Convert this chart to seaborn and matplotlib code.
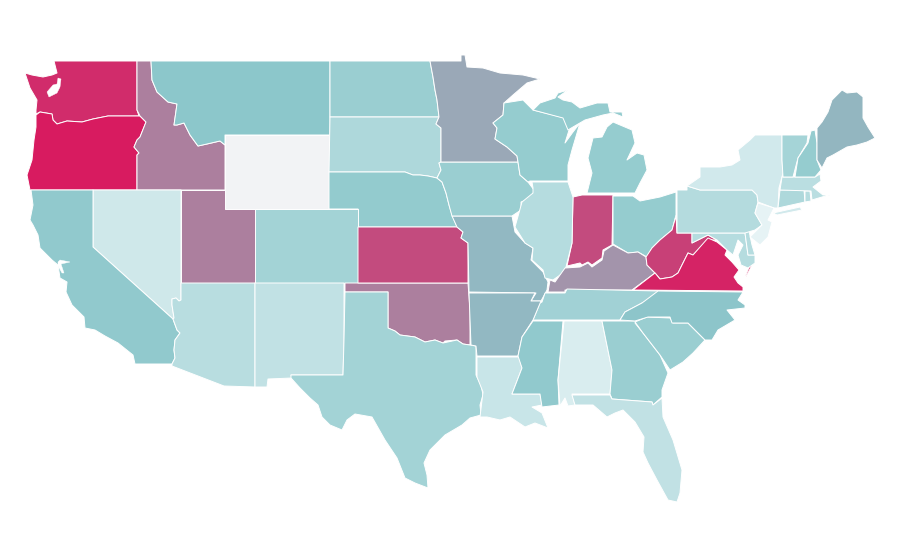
import numpy as np
import seaborn as sns
import matplotlib
matplotlib.use('Agg')
import matplotlib.pyplot as plt

# state outlines (x, y in map units)
WA = [(54,61),(137,61),(137,110),(139,116),(108,116),(93,119),(82,122),(67,121),(57,124),(53,120),(52,114),(40,112),(36,114),(36,110),(37,100),(30,88),(25,73),(32,75),(43,77),(52,75),(57,73),(55,65)]
OR = [(36,115),(40,112),(52,114),(53,120),(57,124),(67,121),(82,122),(93,119),(108,116),(140,116),(146,122),(144,127),(140,137),(137,140),(134,147),(139,153),(137,155),(137,190),(30,190),(27,175),(32,160),(34,140),(36,127)]
ID = [(137,61),(151,61),(152,80),(157,92),(168,102),(177,104),(175,118),(174,125),(177,125),(184,123),(190,135),(198,146),(207,144),(220,141),(225,145),(225,190),(137,190),(137,155),(139,153),(134,147),(137,140),(140,137),(144,127),(146,122),(140,116),(137,110)]
MT = [(151,61),(330,61),(330,135),(225,135),(225,145),(220,141),(207,144),(198,146),(190,135),(184,123),(177,125),(174,125),(175,118),(177,104),(168,102),(157,92),(152,80)]
WY = [(225,135),(329,135),(329,209),(225,209)]
ND = [(330,61),(430,61),(433,77),(435,90),(437,100),(439,117),(330,117)]
SD = [(330,117),(439,117),(436,124),(441,128),(441,162),(439,163),(441,170),(437,178),(428,176),(420,175),(413,175),(405,172),(329,172)]
NE = [(329,172),(405,172),(413,175),(420,175),(428,176),(437,178),(442,182),(446,193),(449,205),(452,215),(457,227),(358,227),(358,209),(329,209)]
CO = [(255,209),(358,209),(358,283),(255,283)]
UT = [(181,190),(225,190),(225,209),(255,209),(255,283),(181,283)]
NV = [(93,190),(181,190),(181,300),(179,301),(176,298),(172,299),(172,305),(174,318),(173,319),(93,247)]
CA = [(31,190),(93,190),(93,247),(173,319),(177,330),(180,333),(175,340),(174,350),(175,358),(172,364),(135,364),(133,355),(118,343),(105,336),(95,330),(85,328),(84,317),(72,305),(66,292),(67,282),(60,278),(58,265),(52,260),(40,248),(38,235),(33,225),(30,220),(33,205)]
AZ = [(181,283),(255,283),(255,387),(224,386),(172,366),(172,364),(175,358),(174,350),(175,340),(180,333),(177,330),(173,319),(174,318),(172,305),(172,299),(176,298),(179,301),(181,300)]
NM = [(255,283),(344,283),(344,340),(343,375),(291,375),(292,378),(268,379),(267,387),(255,387)]
OK = [(345,283),(468,283),(470,310),(470,345),(463,344),(457,340),(445,341),(443,343),(435,340),(425,342),(415,337),(400,335),(395,331),(388,328),(388,292),(345,292)]
TX = [(345,292),(388,292),(388,328),(395,331),(400,335),(415,337),(425,342),(435,340),(443,343),(457,340),(463,344),(470,345),(476,346),(476,375),(481,385),(483,395),(480,405),(481,415),(470,418),(462,425),(445,435),(430,450),(424,463),(427,475),(428,488),(415,483),(405,478),(397,458),(385,440),(372,417),(355,414),(347,420),(342,430),(330,425),(322,417),(318,405),(310,398),(300,388),(291,378),(291,375),(343,375),(344,340)]
KS = [(358,227),(457,227),(463,232),(461,238),(468,243),(468,283),(358,283)]
MO = [(452,216),(512,216),(515,232),(525,243),(533,248),(531,260),(543,272),(548,282),(547,290),(541,301),(531,301),(536,293),(469,292),(468,243),(461,238),(463,232),(457,227)]
IA = [(441,162),(518,162),(520,175),(528,182),(534,190),(532,198),(521,202),(521,210),(512,216),(452,216),(449,205),(446,193),(442,182),(437,178),(441,170),(439,163)]
MN = [(430,61),(461,61),(461,55),(465,55),(467,67),(483,68),(500,73),(523,75),(540,79),(527,83),(513,95),(504,103),(503,115),(493,123),(497,128),(495,139),(507,147),(517,156),(518,162),(441,162),(441,128),(436,124),(439,117),(437,100),(435,90),(433,77)]
WI = [(504,103),(523,100),(533,110),(565,118),(570,127),(565,143),(573,132),(580,123),(572,150),(568,165),(568,181),(530,181),(528,182),(520,175),(518,162),(517,156),(507,147),(495,139),(497,128),(493,123),(503,115)]
MI_UP = [(533,110),(540,103),(555,98),(558,93),(568,90),(558,97),(563,100),(572,102),(580,108),(597,103),(608,103),(610,112),(622,112),(623,117),(613,113),(603,115),(585,120),(573,127),(568,130),(563,118)]
MI_LOW = [(607,127),(613,122),(632,130),(635,143),(627,160),(637,153),(644,155),(647,170),(640,183),(635,193),(587,193),(592,173),(588,158),(593,138),(602,137)]
IN = [(573,197),(582,195),(613,195),(612,245),(603,250),(602,258),(592,265),(588,262),(582,265),(580,263),(567,266),(572,243)]
IL = [(532,182),(568,182),(573,197),(572,243),(566,267),(563,273),(553,280),(545,278),(543,270),(532,260),(533,248),(525,243),(515,227),(522,202),(533,193),(533,188)]
OH = [(613,196),(633,196),(640,201),(660,197),(676,192),(676,215),(672,230),(660,240),(652,248),(647,257),(638,252),(628,253),(613,244)]
KY = [(548,292),(550,280),(555,282),(565,268),(580,267),(588,263),(592,267),(602,260),(604,251),(613,245),(628,253),(638,252),(646,257),(647,265),(655,273),(632,290),(565,290),(565,292)]
WV = [(676,216),(677,233),(692,233),(692,243),(708,235),(717,240),(708,240),(700,248),(693,255),(688,253),(678,273),(672,277),(660,279),(655,273),(647,265),(646,257),(652,248),(660,240),(672,230)]
VA = [(633,290),(655,273),(660,279),(672,277),(678,273),(688,253),(693,255),(708,238),(717,242),(727,250),(725,255),(732,262),(739,270),(734,277),(738,283),(743,287),(743,291)]
VA_SHORE = [(750,265),(752,265),(746,277),(745,277)]
MD = [(692,233),(745,233),(748,255),(755,255),(755,263),(748,268),(741,265),(738,255),(743,245),(738,240),(733,255),(727,250),(717,240),(708,235),(692,243)]
DE = [(745,233),(749,231),(752,245),(755,255),(748,255)]
PA = [(677,190),(687,190),(687,186),(700,190),(752,190),(757,195),(758,202),(755,213),(762,225),(755,230),(745,233),(677,233)]
NY = [(687,186),(700,177),(700,167),(720,167),(732,165),(740,160),(738,150),(750,140),(755,135),(782,135),(782,160),(783,173),(779,188),(778,208),(774,208),(758,202),(757,195),(752,190),(700,190)]
NY_LI = [(773,213),(800,207),(802,210),(777,215)]
NJ = [(758,203),(774,208),(768,220),(772,222),(768,237),(760,245),(750,237),(762,225),(755,213)]
CT = [(780,190),(804,190),(805,202),(778,208)]
RI = [(805,191),(810,191),(811,201),(805,202)]
MA = [(782,177),(815,177),(820,174),(821,181),(813,187),(823,195),(830,195),(822,197),(812,200),(811,191),(780,190)]
VT = [(782,135),(808,135),(807,143),(798,158),(793,177),(783,177),(782,160)]
NH = [(811,131),(815,130),(817,143),(817,160),(821,170),(815,177),(795,177),(798,158),(808,143)]
ME = [(817,128),(822,122),(828,112),(832,100),(842,90),(847,93),(857,92),(863,97),(863,118),(868,127),(875,138),(867,142),(857,145),(847,147),(833,155),(827,158),(822,168),(817,160)]
TN = [(545,293),(565,293),(567,289),(658,291),(667,291),(658,295),(642,303),(625,312),(620,320),(533,320),(540,303),(542,302)]
AR = [(469,293),(535,293),(531,301),(541,301),(533,320),(522,337),(518,356),(477,356),(476,346),(471,345)]
LA = [(477,357),(519,357),(522,368),(512,394),(540,394),(542,405),(532,407),(542,413),(548,428),(535,423),(525,427),(510,417),(500,420),(487,417),(480,417),(483,392),(477,377)]
MS = [(533,321),(563,321),(558,380),(559,405),(542,407),(540,394),(512,394),(522,368),(518,356),(522,337)]
AL = [(564,321),(602,321),(612,370),(610,394),(572,394),(575,405),(568,406),(565,398),(560,406),(558,380)]
GA = [(602,321),(637,321),(635,323),(643,333),(660,355),(668,373),(662,390),(662,397),(653,405),(652,402),(612,399),(610,394),(612,370)]
SC = [(635,322),(647,317),(670,318),(673,323),(688,323),(705,340),(693,353),(683,362),(670,370),(660,355),(643,333)]
NC = [(658,291),(743,292),(738,300),(745,305),(745,308),(727,310),(735,320),(718,330),(712,340),(705,340),(688,323),(672,323),(670,317),(648,317),(635,321),(620,320),(625,312),(642,303)]
FL = [(572,395),(610,395),(612,399),(652,402),(653,405),(662,398),(663,417),(673,440),(682,470),(680,493),(677,502),(668,500),(657,480),(648,463),(643,452),(644,437),(635,422),(623,410),(615,413),(607,417),(593,405),(575,405)]

# water cut out of the land
PUGET = [(61,79),(60,87),(57,93),(49,97),(47,92),(53,85),(57,84),(58,78)]
SF_BAY = [(58,262),(60,260),(70,262),(61,264),(64,273),(62,273),(58,266)]

state_names = ['WA','OR','ID','MT','WY','ND','SD','NE','CO','UT','NV','CA','AZ','NM','OK','TX','KS','MO','IA','MN','WI','MI','MI','IN','IL','OH','KY','WV','VA','VA','MD','DE','PA','NY','NY','NJ','CT','RI','MA','VT','NH','ME','TN','AR','LA','MS','AL','GA','SC','NC','FL']
state_shapes = [WA,OR,ID,MT,WY,ND,SD,NE,CO,UT,NV,CA,AZ,NM,OK,TX,KS,MO,IA,MN,WI,MI_UP,MI_LOW,IN,IL,OH,KY,WV,VA,VA_SHORE,MD,DE,PA,NY,NY_LI,NJ,CT,RI,MA,VT,NH,ME,TN,AR,LA,MS,AL,GA,SC,NC,FL]
state_values = {'WA':94,'OR':100,'ID':65,'MT':40,'WY':np.nan,'ND':34,'SD':25,'NE':37,'CO':30,'UT':65,'NV':11,'CA':38,'AZ':21,'NM':17,'OK':65,'TX':30,'KS':83,'MO':45,'IA':34,'MN':51,'WI':36,'MI':36,'IN':83,'IL':22,'OH':36,'KY':58,'WV':87,'VA':97,'MD':22,'DE':22,'PA':23,'NY':10,'NJ':1,'CT':25,'RI':22,'MA':20,'VT':29,'NH':36,'ME':46,'TN':31,'AR':45,'LA':14,'MS':38,'AL':7,'GA':34,'SC':34,'NC':41,'FL':17}

sns.set_theme(style='white')
# six evenly spaced stops = values 0, 20, 40, 60, 80, 100
cmap = sns.blend_palette(['#e8f4f6', '#badee1', '#8cc7cb', '#a58ea7', '#bf5484', '#d81b60'], as_cmap=True)
no_data = '#f2f3f5'

fig, ax = plt.subplots(figsize=(9, 5.6), dpi=100)
ax.set_position([0, 0, 1, 1])

for name, shape in zip(state_names, state_shapes):
    val = state_values[name]
    color = no_data if np.isnan(val) else cmap(val / 100)
    xs, ys = zip(*shape)
    ax.fill(xs, ys, facecolor=color, edgecolor='white', linewidth=0.7, joinstyle='round')

for shape in [PUGET, SF_BAY]:
    xs, ys = zip(*shape)
    ax.fill(xs, ys, facecolor='white', edgecolor='white', linewidth=0.3)

ax.set_xlim(0, 900)
ax.set_ylim(560, 0)
ax.set_xticks([])
ax.set_yticks([])
sns.despine(left=True, bottom=True)

fig.savefig('out.png', dpi=100)
